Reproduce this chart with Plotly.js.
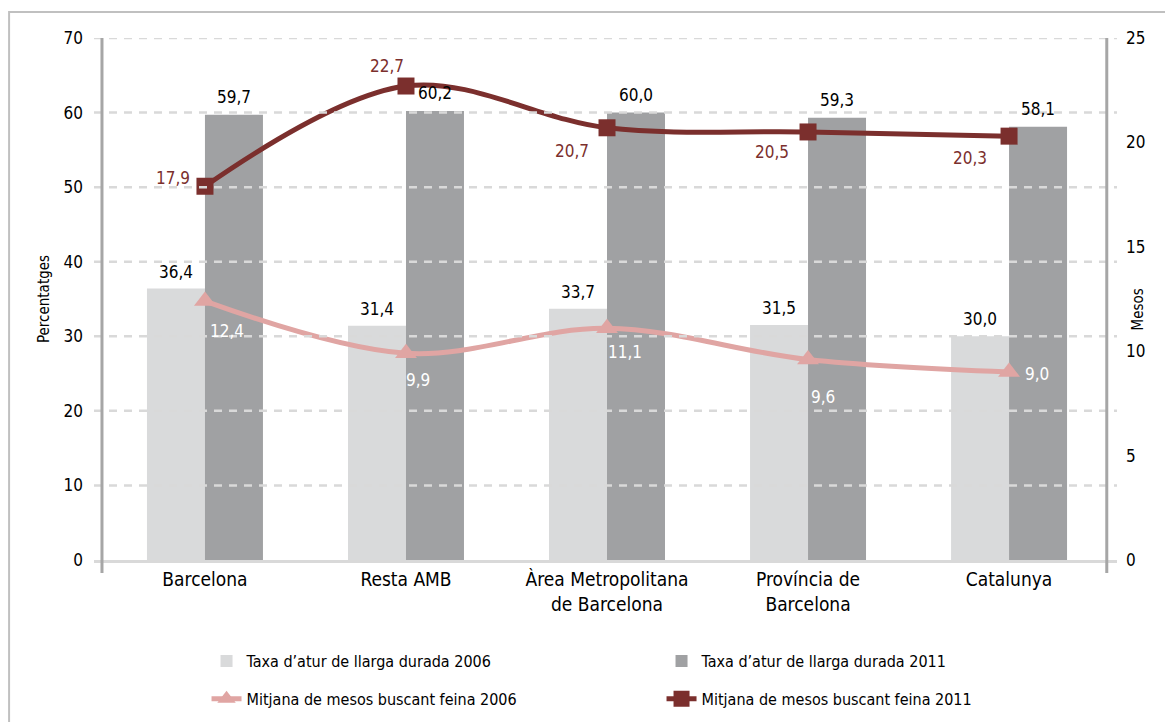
<!DOCTYPE html>
<html>
<head>
<meta charset="utf-8">
<script src="https://cdn.plot.ly/plotly-3.0.1.min.js"></script>
<style>html,body{margin:0;padding:0;background:#fff;}#chart{width:1165px;height:722px;}</style>
</head>
<body>
<div id="chart"></div>
<script>
// ---- data ----
const categories = ['Barcelona', 'Resta AMB', 'Àrea Metropolitana<br>de Barcelona', 'Província de<br>Barcelona', 'Catalunya'];
const taxa2006 = [36.4, 31.4, 33.7, 31.5, 30.0];
const taxa2011 = [59.7, 60.2, 60.0, 59.3, 58.1];
const mesos2006 = [12.4, 9.9, 11.1, 9.6, 9.0];
const mesos2011 = [17.9, 22.7, 20.7, 20.5, 20.3];
const leftTicks = [0, 10, 20, 30, 40, 50, 60, 70];
const rightTicks = [0, 5, 10, 15, 20, 25];
const seriesNames = ['Taxa d\u2019atur de llarga durada 2006', 'Taxa d\u2019atur de llarga durada 2011',
  'Mitjana de mesos buscant feina 2006', 'Mitjana de mesos buscant feina 2011'];
const leftTitle = 'Percentatges';
const rightTitle = 'Mesos';

// ---- style ----
const FONT = '"Liberation Sans Narrow", "Arial Narrow", "DejaVu Sans Condensed", sans-serif';
const C_LIGHT = '#d9dadb', C_DARK = '#a0a1a3', C_PINK = '#e0a5a3', C_RED = '#7b2f2d';
const fmt = v => v.toFixed(1).replace('.', ',');
const idx = categories.map((_, i) => i);

// label offsets (px) for line labels
const off2011 = [[-32, 8], [-19, 20], [-35, -23], [-36, -20], [-39, -22]];
const off2006 = [[22, -30], [12, -27], [18, -24], [15, -37], [28, -2]];

const traces = [
  {type: 'bar', x: idx, y: taxa2006, name: seriesNames[0], marker: {color: C_LIGHT}, legend: 'legend', hoverinfo: 'y'},
  {type: 'bar', x: idx, y: taxa2011, name: seriesNames[1], marker: {color: C_DARK}, legend: 'legend', hoverinfo: 'y'},
  {type: 'scatter', mode: 'lines+markers', x: idx, y: mesos2006, yaxis: 'y2', name: seriesNames[2],
   line: {color: C_PINK, width: 5, shape: 'spline', smoothing: 1}, marker: {symbol: 'triangle-up', size: 19, color: C_PINK},
   legend: 'legend2', cliponaxis: false},
  {type: 'scatter', mode: 'lines+markers', x: idx, y: mesos2011, yaxis: 'y2', name: seriesNames[3],
   line: {color: C_RED, width: 5, shape: 'spline', smoothing: 1}, marker: {symbol: 'square', size: 17, color: C_RED},
   legend: 'legend2', cliponaxis: false}
];

const annotations = [];
taxa2006.forEach((v, i) => annotations.push({x: i, y: v, xref: 'x', yref: 'y', text: fmt(v), showarrow: false,
  xshift: -29, yshift: 17, yanchor: 'middle', font: {size: 17, color: '#000', family: FONT}}));
taxa2011.forEach((v, i) => annotations.push({x: i, y: v, xref: 'x', yref: 'y', text: fmt(v), showarrow: false,
  xshift: 29, yshift: 18, yanchor: 'middle', font: {size: 17, color: '#000', family: FONT}}));
mesos2011.forEach((v, i) => annotations.push({x: i, y: v, xref: 'x', yref: 'y2', text: fmt(v), showarrow: false,
  xshift: off2011[i][0], yshift: off2011[i][1], yanchor: 'middle', font: {size: 17, color: C_RED, family: FONT}}));
mesos2006.forEach((v, i) => annotations.push({x: i, y: v, xref: 'x', yref: 'y2', text: fmt(v), showarrow: false,
  xshift: off2006[i][0], yshift: off2006[i][1], yanchor: 'middle', font: {size: 17, color: '#ffffff', family: FONT}}));
// right axis title placed within the tick-label column, as in the original
annotations.push({xref: 'paper', yref: 'paper', x: 1.0205, y: 0.48, text: rightTitle, textangle: -90, showarrow: false,
  xanchor: 'center', yanchor: 'middle', font: {size: 15, family: FONT, color: '#000'}});

const shapes = [];
leftTicks.filter(t => t > 0).forEach(t => shapes.push({type: 'line', xref: 'paper', yref: 'y', x0: 0, x1: 1, y0: t, y1: t,
  line: {color: '#d9d9d9', width: 2.5, dash: '8px,7px'}, layer: 'above'}));
// axis lines
shapes.push({type: 'line', xref: 'paper', yref: 'paper', x0: 0.0078, x1: 0.0078, y0: -0.025, y1: 1, line: {color: '#a6a6a6', width: 3}});
shapes.push({type: 'line', xref: 'paper', yref: 'paper', x0: 0.990, x1: 0.990, y0: -0.025, y1: 1, line: {color: '#a6a6a6', width: 3}});
// outer frame
shapes.push({type: 'rect', xref: 'paper', yref: 'paper', x0: -0.083, x1: 1.2, y0: -0.5, y1: 1.0498, line: {color: '#c0c0c0', width: 2}, fillcolor: 'rgba(0,0,0,0)', layer: 'below'});

const layout = {
  width: 1165, height: 722,
  margin: {l: 94, r: 48, t: 38, b: 162, autoexpand: false},
  paper_bgcolor: '#fff', plot_bgcolor: 'rgba(0,0,0,0)',
  font: {family: FONT, color: '#000', size: 16},
  barmode: 'group', bargap: 0.423, bargroupgap: 0,
  showlegend: true,
  xaxis: {type: 'linear', range: [-0.552, 4.537], tickvals: idx, ticktext: categories, showgrid: false, zeroline: false,
    showline: true, linecolor: '#d9d9d9', linewidth: 3, ticks: '', tickfont: {size: 19, family: FONT}, fixedrange: true},
  yaxis: {range: [0, 70], tickvals: leftTicks, showgrid: false, zeroline: false, showline: false, ticks: '',
    ticklabelstandoff: 10, tickfont: {size: 17, family: FONT},
    title: {text: leftTitle, font: {size: 15, family: FONT}, standoff: 10}},
  yaxis2: {range: [0, 25], tickvals: rightTicks, overlaying: 'y', side: 'right', showgrid: false, zeroline: false, showline: false,
    ticks: '', ticklabelstandoff: 8, tickfont: {size: 17, family: FONT}},
  legend: {orientation: 'h', x: 0.11, xanchor: 'left', y: -0.1935, yanchor: 'middle', entrywidth: 410,
    font: {size: 16, family: FONT}, bgcolor: 'rgba(0,0,0,0)', traceorder: 'normal'},
  legend2: {orientation: 'h', x: 0.11, xanchor: 'left', y: -0.266, yanchor: 'middle', entrywidth: 410,
    font: {size: 16, family: FONT}, bgcolor: 'rgba(0,0,0,0)', traceorder: 'normal'},
  annotations: annotations,
  shapes: shapes
};

Plotly.newPlot('chart', traces, layout, {displayModeBar: false, staticPlot: true});
</script>
</body>
</html>
